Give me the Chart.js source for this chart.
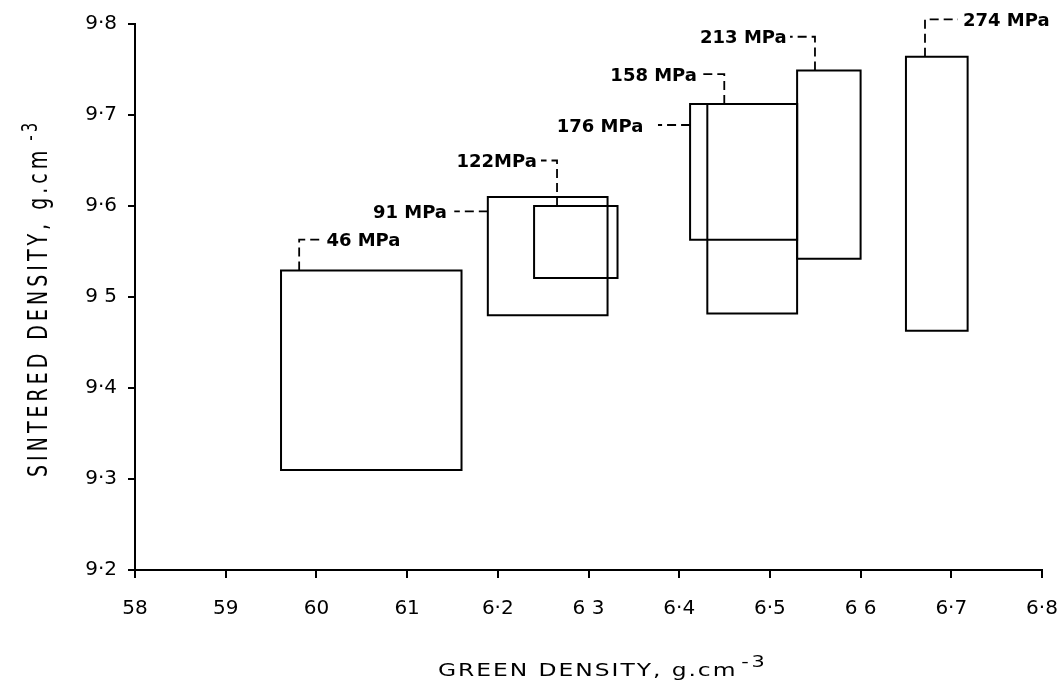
<!DOCTYPE html>
<html>
<head>
<meta charset="utf-8">
<script src="https://cdn.jsdelivr.net/npm/chart.js@4.4.1/dist/chart.umd.min.js"></script>
<style>
  html, body { margin: 0; padding: 0; background: #fff; }
  #wrap { width: 1058px; height: 681px; }
</style>
</head>
<body>
<div id="wrap"><canvas id="c" width="1058" height="681"></canvas></div>
<script>
// Compaction pressure for each batch, and the spread of green / sintered density it gave
const pressureLabels = ['46 MPa', '91 MPa', '122MPa', '158 MPa', '176 MPa', '213 MPa', '274 MPa'];
const greenLow     = [5.961, 6.189, 6.240, 6.431, 6.412, 6.530, 6.650];
const greenHigh    = [6.160, 6.321, 6.332, 6.530, 6.530, 6.600, 6.718];
const sinteredLow  = [9.310, 9.480, 9.521, 9.482, 9.563, 9.542, 9.463];
const sinteredHigh = [9.529, 9.610, 9.600, 9.712, 9.712, 9.749, 9.764];

// Axis ticks and their printed labels
const xTickValues = [5.8, 5.9, 6.0, 6.1, 6.2, 6.3, 6.4, 6.5, 6.6, 6.7, 6.8];
const xTickLabels = ['58', '59', '60', '61', '6·2', '6 3', '6·4', '6·5', '6 6', '6·7', '6·8'];
const yTickValues = [9.2, 9.3, 9.4, 9.5, 9.6, 9.7, 9.8];
const yTickLabels = ['9·2', '9·3', '9·4', '9 5', '9·6', '9·7', '9·8'];

// Where each pressure label sits and how its dashed leader reaches the box (axis units)
const calloutLayout = [
  { attach: 'top',  at: 5.981,  bend: 9.563, end: 6.006,  textAt: 6.011,  align: 'left'  },
  { attach: 'left', at: 9.594,               end: 6.152,  textAt: 6.144,  align: 'right' },
  { attach: 'top',  at: 6.2653, bend: 9.650, end: 6.2476, textAt: 6.243,  align: 'right' },
  { attach: 'top',  at: 6.4497, bend: 9.745, end: 6.4229, textAt: 6.4196, align: 'right' },
  { attach: 'left', at: 9.689,               end: 6.3766, textAt: 6.3604, align: 'right' },
  { attach: 'top',  at: 6.5497, bend: 9.786, end: 6.5222, textAt: 6.5185, align: 'right' },
  { attach: 'top',  at: 6.671,  bend: 9.805, end: 6.7074, textAt: 6.7129, align: 'left'  }
];

const FONT = 'DejaVu Sans';
const INK = '#000';

// Each range is drawn as a closed outline through its four corners
const datasets = pressureLabels.map((label, i) => ({
  label,
  data: [
    { x: greenLow[i],  y: sinteredLow[i]  },
    { x: greenHigh[i], y: sinteredLow[i]  },
    { x: greenHigh[i], y: sinteredHigh[i] },
    { x: greenLow[i],  y: sinteredHigh[i] },
    { x: greenLow[i],  y: sinteredLow[i]  }
  ],
  showLine: true,
  fill: false,
  tension: 0,
  pointRadius: 0,
  borderColor: INK,
  borderWidth: 2,
  borderJoinStyle: 'miter',
  borderCapStyle: 'square',
  clip: false
}));

// Pressure labels with their dashed leader lines
const calloutPlugin = {
  id: 'callouts',
  afterDatasetsDraw(chart) {
    const { ctx, scales: { x, y } } = chart;
    ctx.save();
    ctx.strokeStyle = INK;
    ctx.fillStyle = INK;
    ctx.lineWidth = 1.8;
    ctx.setLineDash([9, 5]);
    const size = 18;
    ctx.font = 'bold ' + size + 'px "' + FONT + '"';
    calloutLayout.forEach((c, i) => {
      let textY;
      ctx.beginPath();
      if (c.attach === 'top') {
        const px = x.getPixelForValue(c.at);
        const by = y.getPixelForValue(c.bend);
        ctx.moveTo(px, y.getPixelForValue(sinteredHigh[i]));
        ctx.lineTo(px, by);
        ctx.lineTo(x.getPixelForValue(c.end), by);
        textY = by;
      } else {
        const py = y.getPixelForValue(c.at);
        ctx.moveTo(x.getPixelForValue(greenLow[i]), py);
        ctx.lineTo(x.getPixelForValue(c.end), py);
        textY = py;
      }
      ctx.stroke();
      ctx.textAlign = c.align;
      ctx.textBaseline = 'alphabetic';
      ctx.fillText(pressureLabels[i], x.getPixelForValue(c.textAt), textY + size * 0.729 / 2);
    });
    ctx.restore();
  }
};

// Axis titles, with a raised exponent on the unit
const axisTitlePlugin = {
  id: 'axisTitles',
  afterDraw(chart) {
    const { ctx, chartArea } = chart;
    ctx.save();
    ctx.fillStyle = INK;
    ctx.textBaseline = 'alphabetic';
    ctx.textAlign = 'left';

    // x title
    ctx.save();
    ctx.translate(chartArea.left + 303, chartArea.bottom + 106);
    ctx.scale(1.3, 1);
    ctx.font = '18px "' + FONT + '"';
    ctx.letterSpacing = '1.5px';
    const xMain = 'GREEN DENSITY, g.cm';
    ctx.fillText(xMain, 0, 0);
    const xw = ctx.measureText(xMain).width;
    ctx.font = '16px "' + FONT + '"';
    ctx.letterSpacing = '2px';
    ctx.fillText('-3', xw + 3, -9);
    ctx.restore();

    // y title
    ctx.save();
    ctx.translate(46.5, 477);
    ctx.rotate(-Math.PI / 2);
    ctx.scale(1, 1.4);
    ctx.font = '19px "' + FONT + '"';
    ctx.letterSpacing = '4px';
    const yMain = 'SINTERED DENSITY, g.cm';
    ctx.fillText(yMain, 0, 0);
    const yw = ctx.measureText(yMain).width;
    ctx.font = '15px "' + FONT + '"';
    ctx.letterSpacing = '3px';
    ctx.fillText('-3', yw + 6, -7);
    ctx.restore();

    ctx.restore();
  }
};

const tickFont = { family: FONT, size: 20 };

new Chart(document.getElementById('c'), {
  type: 'scatter',
  data: { datasets },
  options: {
    responsive: false,
    animation: false,
    layout: { padding: { left: 0, right: 16, top: 24, bottom: 0 } },
    plugins: {
      legend: { display: false },
      tooltip: { enabled: false },
      title: { display: false }
    },
    scales: {
      x: {
        type: 'linear',
        min: 5.8,
        max: 6.8,
        afterBuildTicks: s => { s.ticks = xTickValues.map(v => ({ value: v })); },
        afterFit: s => { s.height = 111; s.paddingLeft = 0; s.paddingRight = 0; },
        ticks: {
          autoSkip: false,
          maxRotation: 0,
          padding: 19,
          color: INK,
          font: tickFont,
          callback: (v, i) => xTickLabels[i]
        },
        grid: { drawOnChartArea: false, drawTicks: true, tickLength: 8, color: INK, lineWidth: 2 },
        border: { display: true, color: INK, width: 2 },
        title: { display: false }
      },
      y: {
        type: 'linear',
        min: 9.2,
        max: 9.8,
        afterBuildTicks: s => { s.ticks = yTickValues.map(v => ({ value: v })); },
        afterFit: s => { s.width = 135; s.paddingTop = 0; s.paddingBottom = 0; },
        ticks: {
          autoSkip: false,
          padding: 11,
          color: INK,
          font: tickFont,
          callback: (v, i) => yTickLabels[i]
        },
        grid: { drawOnChartArea: false, drawTicks: true, tickLength: 7, color: INK, lineWidth: 2 },
        border: { display: true, color: INK, width: 2 },
        title: { display: false }
      }
    }
  },
  plugins: [calloutPlugin, axisTitlePlugin]
});
</script>
</body>
</html>
